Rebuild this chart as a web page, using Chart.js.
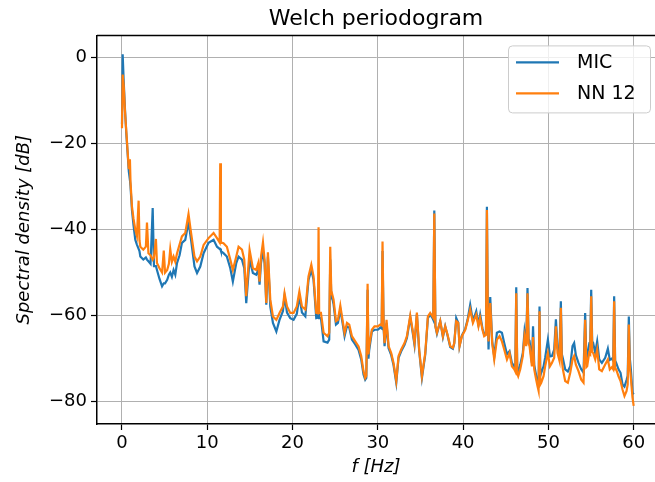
<!DOCTYPE html>
<html>
<head>
<meta charset="utf-8">
<script src="https://cdn.jsdelivr.net/npm/chart.js@4.4.1/dist/chart.umd.min.js"></script>
<style>
  html, body { margin: 0; padding: 0; background: #fff; overflow: hidden; }
  #wrap { width: 655px; height: 482px; }
</style>
</head>
<body>
<div id="wrap"><canvas id="grafico" width="655" height="482"></canvas></div>
<script>
// frequencias (Hz)
const freqs = [
    0.0, 0.08, 0.2, 0.35, 0.5, 0.65, 0.8, 0.93, 1.0, 1.17, 1.35, 1.56, 1.75, 1.95, 2.05, 2.15, 2.5, 2.8, 2.93, 3.1,
    3.35, 3.6, 3.75, 3.98, 4.1, 4.4, 4.7, 4.9, 5.05, 5.3, 5.5, 5.66, 5.85, 6.05, 6.25, 6.45, 6.75, 7.03, 7.42, 7.8,
    8.1, 8.5, 8.8, 9.18, 9.57, 10.15, 10.74, 11.14, 11.45, 11.52, 11.6, 11.9, 12.3, 12.7, 13.0, 13.4, 13.67, 14.07, 14.34, 14.57,
    14.96, 15.35, 15.74, 15.98, 16.13, 16.3, 16.53, 16.72, 16.92, 17.11, 17.39, 17.7, 18.1, 18.47, 18.87, 19.06, 19.35, 19.73, 20.12, 20.5,
    20.8, 21.1, 21.5, 21.87, 22.2, 22.46, 22.78, 22.98, 23.05, 23.12, 23.33, 23.64, 24.1, 24.3, 24.42, 24.55, 24.62, 24.81, 25.09, 25.32,
    25.6, 25.86, 26.1, 26.38, 26.65, 26.96, 27.35, 27.74, 28.05, 28.32, 28.52, 28.65, 28.8, 28.9, 28.99, 29.3, 29.61, 30.0, 30.28, 30.45,
    30.55, 30.68, 30.79, 31.02, 31.26, 31.57, 31.84, 32.16, 32.43, 32.74, 33.13, 33.41, 33.8, 34.07, 34.3, 34.58, 34.85, 35.17, 35.56, 35.87,
    36.14, 36.41, 36.5, 36.62, 36.75, 36.93, 37.32, 37.63, 37.9, 38.17, 38.49, 38.8, 38.96, 39.19, 39.43, 39.58, 39.86, 40.25, 40.52, 40.83,
    41.15, 41.54, 41.8, 42.0, 42.27, 42.47, 42.68, 42.79, 42.9, 42.98, 43.18, 43.41, 43.65, 43.96, 44.27, 44.55, 44.82, 45.14, 45.44, 45.72,
    46.0, 46.12, 46.23, 46.35, 46.46, 46.7, 47.0, 47.2, 47.4, 47.55, 47.68, 47.79, 48.07, 48.2, 48.34, 48.57, 48.72, 48.85, 48.96, 49.05,
    49.16, 49.43, 49.62, 49.94, 50.18, 50.41, 50.68, 50.88, 51.07, 51.3, 51.46, 51.58, 51.7, 51.97, 52.28, 52.56, 52.83, 53.02, 53.22, 53.53,
    53.85, 54.12, 54.31, 54.45, 54.55, 54.78, 54.9, 55.02, 55.14, 55.25, 55.49, 55.72, 55.96, 56.27, 56.66, 56.97, 57.2, 57.44, 57.6, 57.71,
    57.83, 57.95, 58.22, 58.46, 58.69, 58.92, 59.16, 59.3, 59.43, 59.55, 59.67, 59.86, 60.0
];

// densidade espectral MIC (dB)
const mic = [
    -15.5, 0.7, -5.5, -12, -17.5, -22, -26.5, -28.5, -30, -35.5, -39, -42.4, -43.5, -44.5, -45, -46.3, -47, -46.5, -47, -47.4,
    -48, -35, -48.5, -48.5, -49.4, -51.5, -53.2, -52.5, -52.5, -51.7, -50.5, -50, -51, -49.4, -50.5, -47.8, -46, -43.1, -42.4, -38.2,
    -42.4, -48.6, -50.1, -48.6, -45.5, -43.1, -42.4, -44, -44.5, -44.5, -45, -45.5, -46.3, -49, -52.1, -47.8, -46.3, -47, -49, -57.1,
    -47, -50.1, -50.5, -49.4, -52.8, -47.8, -45, -47.8, -57.5, -46.3, -57.9, -61.7, -63.7, -61, -59, -55.5, -59.3, -60.6, -61, -59.6,
    -55.5, -59.3, -60.2, -51.7, -49.4, -51.7, -60.6, -60.5, -58, -60.6, -60.6, -66, -66.3, -65.6, -47, -56, -55.6, -57.4, -62.1, -61.7,
    -58.6, -61.7, -64.8, -62.5, -62.8, -65.6, -66.7, -68, -70.2, -73.7, -74.9, -74.5, -54, -70, -68, -63.7, -63.3, -63.3, -62.8, -63,
    -45, -63, -67.1, -61.8, -67.6, -69.2, -71.5, -75.6, -69.8, -68.3, -66.8, -65.2, -60.4, -63.7, -66.8, -59.7, -68.3, -74.5, -69.1, -60.6,
    -59.8, -60.6, -61, -35.6, -62.5, -64.2, -61.3, -65, -62.5, -64.6, -67.3, -67.7, -66.5, -60.6, -61.7, -67.1, -64.6, -63.1, -61, -57.5,
    -61.3, -59, -62.1, -59.8, -63, -64.4, -64, -34.7, -60, -67.9, -55.7, -66, -69.5, -64, -63.7, -64, -66.4, -69, -68.3, -71,
    -71.8, -72, -53.4, -72.5, -73.3, -71.4, -68.7, -63.7, -66.7, -53.6, -65.5, -65.9, -71, -62.5, -71.5, -74, -75.6, -76, -57.9, -74,
    -73.3, -71.8, -69.8, -65.6, -69.5, -69.4, -67.9, -60.9, -67.5, -69, -56.7, -69, -70, -72.5, -73, -71.8, -67.1, -66.4, -69.2, -71,
    -72.5, -73.3, -59.4, -70, -69.4, -66.7, -67, -54, -66.5, -66.4, -68.7, -66, -70.2, -71, -69.8, -67.7, -70.3, -70, -70.5, -55.5,
    -70.5, -71, -72.5, -73.3, -76, -76.5, -75, -74, -60.2, -70, -72.5, -77.9, -78.3
];

// densidade espectral NN 12 (dB)
const nn12 = [
    -16.5, -4, -6.5, -12.5, -17, -21.5, -26, -23.7, -29, -34.7, -37.5, -40, -41.5, -33.3, -42.5, -44, -44.7, -44, -38.4, -45.5,
    -46, -47, -46.5, -42.2, -47.8, -49, -50, -44.9, -50, -49.4, -48, -44.6, -47.5, -46.3, -47.5, -45.6, -43.5, -41.6, -40.8, -36.4,
    -40.8, -46.3, -47.4, -46.3, -43.6, -42, -40.8, -42, -43, -24.6, -43, -43.2, -44, -47, -49.4, -46.3, -44, -44.7, -47, -55.5,
    -44.7, -49, -49.4, -47.8, -52.1, -46.3, -43, -47, -57.1, -45.3, -56.3, -60.2, -61, -59.4, -57.9, -54.8, -57.9, -59.4, -59.4, -57.9,
    -54.4, -57.9, -58.6, -50.9, -48.2, -50.9, -59.4, -59.5, -39.5, -59.4, -59.4, -64, -64.8, -64, -44, -55, -54.8, -56.3, -61.3, -61,
    -57.7, -61, -64, -61.7, -62.1, -64.8, -66, -67.2, -69.4, -72.9, -74.5, -74, -52.6, -69, -67.1, -63.3, -62.5, -62.5, -62.1, -62.3,
    -42.8, -62.5, -66.4, -61, -67.1, -68.7, -71, -75.2, -69.4, -67.9, -66.4, -64.8, -60, -63.3, -66.4, -59.3, -67.9, -74.1, -68.7, -60.2,
    -59.4, -60.2, -60.5, -36.3, -62.5, -64, -61.3, -64.8, -62.5, -64.4, -67.1, -67.5, -66.4, -61.3, -61.7, -67.1, -64.8, -63.3, -61.3, -58.6,
    -61.7, -59.8, -62.5, -60.6, -63.3, -64.8, -64.5, -35.5, -61, -66, -57.1, -66.4, -70.2, -65.6, -64.8, -66, -67.9, -70.2, -68.7, -71.8,
    -72.5, -73, -54.8, -73.5, -74.1, -72.5, -69.4, -64.8, -67.1, -54.8, -66.5, -67.1, -71.8, -65, -72.5, -74.9, -76.4, -77.5, -59, -76,
    -75.6, -74.1, -71.8, -68.7, -71.8, -71, -69.8, -62.5, -68.7, -70.5, -58.2, -70.5, -72.5, -75.2, -75.6, -73.3, -70.2, -69.4, -71.4, -72.9,
    -74.9, -75.6, -61, -72, -71.8, -68.7, -69, -55.5, -68.5, -68.7, -70.2, -67.9, -72.5, -72.9, -71.4, -70.2, -72.5, -72, -72.5, -56.7,
    -72.5, -72.5, -74.1, -75.2, -77.2, -78.7, -77.6, -76, -62.1, -72, -74.5, -79, -81
];

const xTicks = [0, 10, 20, 30, 40, 50, 60];
const yTicks = [0, -20, -40, -60, -80];
const nomes = ['MIC', 'NN 12'];
const cores = ['#1f77b4', '#ff7f0e'];

const FONTE = "'DejaVu Sans', sans-serif";

function pontos(valores) {
    return freqs.map((f, i) => ({ x: f, y: valores[i] }));
}

function menos(v) {
    return v < 0 ? '\u2212' + Math.abs(v) : String(v);
}

// moldura de cima e legenda no canto, estilo matplotlib
const molduraLegenda = {
    id: 'molduraLegenda',
    afterDraw(chart) {
        const ctx = chart.ctx;
        const area = chart.chartArea;
        ctx.save();
        ctx.strokeStyle = '#000';
        ctx.lineWidth = 1.5;
        ctx.beginPath();
        ctx.moveTo(area.left, area.top);
        ctx.lineTo(chart.width, area.top);
        ctx.stroke();

        const bx = chart.width - 147, by = area.top + 10, bw = 142, bh = 67;
        ctx.fillStyle = 'rgba(255,255,255,0.8)';
        ctx.strokeStyle = '#cccccc';
        ctx.lineWidth = 1;
        ctx.beginPath();
        ctx.roundRect(bx + 0.5, by + 0.5, bw, bh, 4);
        ctx.fill();
        ctx.stroke();

        ctx.font = '19px ' + FONTE;
        ctx.textBaseline = 'middle';
        nomes.forEach((nome, i) => {
            const yy = by + 17 + i * 31;
            ctx.strokeStyle = cores[i];
            ctx.lineWidth = 2.2;
            ctx.beginPath();
            ctx.moveTo(bx + 8, yy);
            ctx.lineTo(bx + 51, yy);
            ctx.stroke();
            ctx.fillStyle = '#000';
            ctx.fillText(nome, bx + 69, yy + 1);
        });
        ctx.restore();
    }
};

const ctx = document.getElementById('grafico').getContext('2d');
new Chart(ctx, {
    type: 'line',
    data: {
        datasets: [{
            label: nomes[0],
            data: pontos(mic),
            borderColor: cores[0],
            borderWidth: 2.2,
            pointRadius: 0,
            order: 1
        }, {
            label: nomes[1],
            data: pontos(nn12),
            borderColor: cores[1],
            borderWidth: 2.2,
            pointRadius: 0,
            order: 0
        }]
    },
    options: {
        responsive: false,
        animation: false,
        layout: { padding: 0 },
        plugins: {
            legend: { display: false },
            tooltip: { enabled: false },
            title: {
                display: true,
                text: 'Welch periodogram',
                fullSize: false,
                color: '#000',
                font: { family: FONTE, size: 22, weight: 'normal' },
                padding: { top: 6, bottom: 3 }
            }
        },
        scales: {
            x: {
                type: 'linear',
                min: -2.93,
                max: 62.5,
                afterBuildTicks: s => { s.ticks = xTicks.map(v => ({ value: v })); },
                afterFit: s => { s.height = 58; },
                grid: { color: '#b0b0b0', lineWidth: 1, tickColor: '#000', tickLength: 6, tickWidth: 1.2 },
                border: { color: '#000', width: 1.5 },
                ticks: { color: '#000', font: { family: FONTE, size: 18 }, padding: 3, maxRotation: 0 },
                title: {
                    display: true,
                    text: 'f [Hz]',
                    color: '#000',
                    font: { family: FONTE, size: 18, style: 'italic' },
                    padding: { top: 0, bottom: 4 }
                }
            },
            y: {
                type: 'linear',
                min: -85.2,
                max: 5.1,
                afterBuildTicks: s => { s.ticks = yTicks.map(v => ({ value: v })); },
                afterFit: s => { s.width = 97; },
                grid: { color: '#b0b0b0', lineWidth: 1, tickColor: '#000', tickLength: 6, tickWidth: 1.2 },
                border: { color: '#000', width: 1.5 },
                ticks: { color: '#000', font: { family: FONTE, size: 18 }, padding: 4, callback: v => menos(v) },
                title: {
                    display: true,
                    text: 'Spectral density [dB]',
                    color: '#000',
                    font: { family: FONTE, size: 18, style: 'italic' },
                    padding: { top: 14, bottom: 0 }
                }
            }
        }
    },
    plugins: [molduraLegenda]
});
</script>
</body>
</html>
